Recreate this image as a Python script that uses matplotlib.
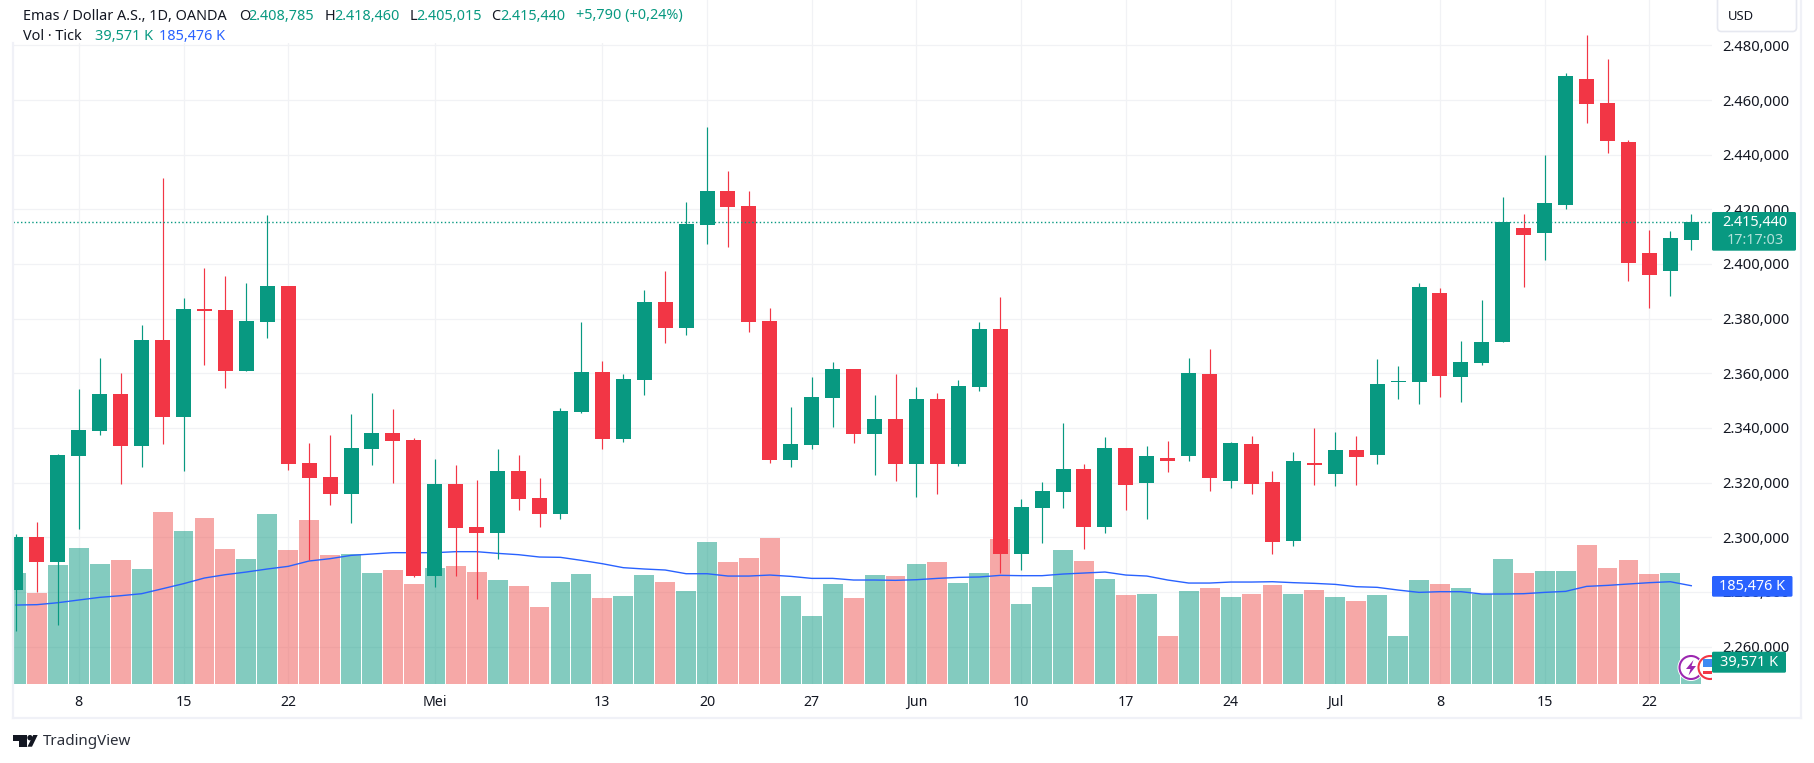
import numpy as np
import matplotlib
matplotlib.use("Agg")
import matplotlib.pyplot as plt
from matplotlib.patches import Rectangle, FancyBboxPatch, Circle, Polygon

# bars run from 3 Apr to 24 Jul 2024, weekdays only
opens = [2280.7, 2300.1, 2291.0, 2329.8, 2338.9, 2352.4, 2333.4, 2372.2, 2344.0, 2383.5, 2383.2, 2360.9, 2378.8, 2392.0, 2327.2, 2322.1, 2315.9, 2332.3, 2338.2, 2335.6, 2285.9, 2319.5, 2303.8, 2301.6, 2324.3,
         2314.4, 2308.5, 2345.9, 2360.5, 2336.0, 2357.6, 2386.1, 2376.6, 2414.3, 2426.7, 2421.2, 2379.1, 2328.3, 2333.8, 2351.0, 2361.6, 2337.8, 2343.3, 2326.8, 2350.6, 2326.8, 2355.0, 2376.2, 2293.9,
         2310.7, 2316.6, 2325.0, 2303.8, 2332.7, 2319.9, 2329.0, 2329.8, 2359.8, 2320.6, 2334.1, 2320.2, 2298.7, 2327.2, 2323.2, 2332.0, 2330.1, 2356.8, 2356.8, 2389.4, 2358.7, 2363.8, 2371.6, 2413.3, 2411.5, 2421.7, 2467.8, 2459.0, 2444.8, 2404.1, 2397.6, 2408.785]
highs = [2301.2, 2305.6, 2330.5, 2354.3, 2365.6, 2360.1, 2377.7, 2431.5, 2387.6, 2398.5, 2395.6, 2393.0, 2417.9, 2392.0, 2334.5, 2337.4, 2345.1, 2352.8, 2347.0, 2336.3, 2328.7, 2326.5, 2321.0, 2332.3, 2330.1,
         2321.7, 2347.3, 2378.8, 2364.5, 2359.8, 2390.5, 2397.4, 2422.7, 2450.1, 2434.0, 2426.7, 2383.9, 2347.7, 2358.7, 2364.1, 2361.6, 2352.1, 2359.8, 2355.0, 2352.8, 2357.6, 2378.8, 2387.9, 2314.0,
         2320.2, 2341.8, 2326.8, 2336.7, 2332.7, 2333.4, 2335.2, 2365.6, 2368.9, 2334.9, 2337.1, 2324.3, 2331.2, 2340.0, 2338.5, 2337.1, 2365.2, 2362.7, 2393.0, 2391.2, 2371.8, 2386.8, 2424.6, 2418.4, 2440.0, 2470.0, 2483.9, 2475.1, 2445.5, 2412.6, 2412.2, 2418.46]
lows = [2265.8, 2280.0, 2267.9, 2303.2, 2337.4, 2319.5, 2325.7, 2334.1, 2324.3, 2363.0, 2354.6, 2360.9, 2372.9, 2324.6, 2291.7, 2311.8, 2305.2, 2326.5, 2319.9, 2285.5, 2281.8, 2285.9, 2277.4, 2292.1, 2310.0,
        2303.8, 2306.7, 2345.5, 2332.3, 2334.9, 2352.1, 2371.1, 2374.0, 2407.3, 2406.2, 2375.1, 2327.2, 2325.7, 2332.3, 2340.4, 2334.5, 2322.8, 2320.6, 2314.8, 2315.9, 2326.1, 2353.5, 2287.0, 2288.0,
        2297.9, 2310.7, 2295.7, 2301.6, 2310.0, 2306.7, 2323.9, 2327.9, 2317.0, 2318.0, 2315.9, 2293.9, 2296.8, 2319.1, 2318.8, 2319.1, 2326.8, 2350.6, 2348.8, 2351.3, 2349.5, 2363.0, 2371.6, 2391.7, 2401.6, 2420.2, 2451.7, 2440.7, 2393.9, 2384.0, 2388.4, 2405.015]
closes = [2300.1, 2291.0, 2330.1, 2339.3, 2352.4, 2333.4, 2372.2, 2344.0, 2383.5, 2382.8, 2360.9, 2379.1, 2392.0, 2326.8, 2321.7, 2315.9, 2332.7, 2338.2, 2335.2, 2285.9, 2319.5, 2303.4, 2301.6, 2324.3, 2314.0,
          2308.5, 2346.2, 2360.5, 2336.0, 2357.9, 2386.1, 2376.6, 2414.6, 2426.7, 2420.9, 2378.8, 2328.3, 2334.1, 2351.3, 2361.6, 2337.8, 2343.3, 2326.8, 2350.6, 2326.8, 2355.4, 2376.2, 2293.9, 2311.1,
          2317.0, 2325.0, 2303.8, 2332.7, 2319.1, 2329.8, 2327.9, 2360.1, 2321.7, 2334.5, 2319.5, 2298.3, 2327.9, 2326.5, 2332.0, 2329.4, 2356.1, 2357.1, 2391.6, 2359.0, 2364.1, 2371.5, 2415.5, 2410.7, 2422.4, 2468.9, 2458.7, 2445.1, 2400.5, 2396.1, 2409.6, 2415.44]
# tick volume, in thousands
volumes = [209.5, 171.7, 224.6, 256.6, 226.4, 234.0, 217.0, 324.6, 288.7, 313.2, 254.7, 235.9, 320.8, 252.9, 309.5, 243.4, 245.3, 209.5, 215.1, 188.7, 218.9, 222.7, 211.3, 196.2, 184.9,
           145.3, 192.5, 207.6, 162.3, 166.1, 205.7, 192.5, 175.5, 268.0, 230.2, 237.8, 275.5, 166.1, 128.3, 188.7, 162.3, 205.7, 203.8, 226.4, 230.2, 190.6, 209.5, 273.6, 151.0,
           183.0, 252.9, 232.1, 198.1, 167.9, 169.8, 90.6, 175.5, 181.2, 164.2, 169.8, 186.8, 169.8, 177.4, 164.2, 156.6, 167.9, 90.6, 196.2, 188.7, 181.2, 169.8, 235.9, 209.5, 213.2, 213.2, 262.3, 218.9, 234.0, 207.6, 209.5, 39.571]
vol_ma = [149.0, 149.7, 153.4, 158.5, 163.5, 166.6, 170.4, 179.8, 189.3, 200.0, 206.3, 211.3, 217.0, 222.0, 232.1, 236.5, 242.7, 245.3, 247.8, 247.8, 247.8, 249.7, 249.7, 246.5, 244.0, 239.6, 239.0, 233.3, 227.0, 219.5, 217.0,
          215.1, 208.1, 208.1, 203.7, 203.7, 205.6, 203.1, 199.3, 199.3, 196.2, 196.2, 195.6, 196.8, 199.3, 201.2, 201.9, 205.0, 204.4, 204.4, 207.5, 209.4, 211.3, 205.6, 203.7, 196.2, 190.5, 190.5, 192.4,
          192.4, 193.0, 191.2, 189.9, 188.0, 183.6, 182.4, 177.3, 172.9, 174.2, 174.2, 169.8, 169.8, 170.4, 172.9, 174.8, 184.2, 186.1, 188.7, 191.2, 193.0, 185.476]
time_ticks = [3, 8, 13, 20, 28, 33, 38, 43, 48, 53, 58, 63, 68, 73, 78]
time_labels = ["8", "15", "22", "Mei", "13", "20", "27", "Jun", "10", "17", "24", "Jul", "8", "15", "22"]
price_ticks = [2260, 2280, 2300, 2320, 2340, 2360, 2380, 2400, 2420, 2440, 2460, 2480]
last_price = 2415.44

GREEN = "#089981"
RED = "#F23645"
VOL_RED = "#EF5350"
BLUE = "#2962FF"
TEXT = "#131722"
GRID = "#F1F2F5"
BORDER = "#F0F1F7"

W, H = 1815, 763
plt.rcParams["font.family"] = ["Noto Sans", "DejaVu Sans"]

fig = plt.figure(figsize=(W / 100, H / 100), dpi=100, facecolor="white")
left, right, bottom = 13.4, 1711.8, 684.0
rect = [left / W, (H - bottom) / H, (right - left) / W, bottom / H]

# stacked panes: grid at the back, then volume, then candles
ax = fig.add_axes(rect)
ax_vol = ax.twinx()
ax_price = ax.twinx()
ax.set_zorder(1)
ax_vol.set_zorder(2)
ax_price.set_zorder(3)
ax_vol.patch.set_visible(False)
ax_price.patch.set_visible(False)

x = np.arange(len(closes))
o, h, l, c = map(np.array, (opens, highs, lows, closes))
up = c >= o

ax.set_xlim(-0.123, 80.98)
price_lim = (2246.3, 2496.6)
ax.set_ylim(*price_lim)
ax_price.set_ylim(*price_lim)
ax_vol.set_ylim(0, 684 * 1.887)
for a in (ax, ax_vol, ax_price):
    for s in a.spines.values():
        s.set_visible(False)
ax_vol.set_yticks([])
ax_price.set_yticks([])

ax.grid(True, color=GRID, linewidth=0.9)
ax.set_axisbelow(True)
ax.set_xticks(time_ticks)
ax.set_xticklabels(time_labels, fontsize=10.2, color=TEXT)
ax.tick_params(axis="x", length=0, pad=8)
for lab in ax.get_xticklabels():
    if lab.get_text() in ("Mei", "Jun", "Jul"):
        lab.set_fontweight("bold")
ax.yaxis.tick_right()
ax.set_yticks(price_ticks)
ax.set_yticklabels([f"{p // 1000}.{p % 1000:03d},000" for p in price_ticks], fontsize=10.6, color=TEXT)
ax.tick_params(axis="y", length=0, pad=7.5)

vol_colors = [GREEN if u else VOL_RED for u in up]
ax_vol.bar(x, volumes, width=0.95, color=vol_colors, alpha=0.5, linewidth=0)
ax_vol.plot(x, vol_ma, color=BLUE, linewidth=1.0)

colors = [GREEN if u else RED for u in up]
ax_price.vlines(x, l, h, colors=colors, linewidth=0.85)
ax_price.bar(x, np.abs(c - o), bottom=np.minimum(o, c), width=0.716, color=colors, linewidth=0)
ax_price.axhline(last_price, color=GREEN, linewidth=1.0, linestyle=(0, (1, 1.7)))

# overlay in pixel coordinates for the chart chrome
ov = fig.add_axes([0, 0, 1, 1], zorder=5)
ov.set_xlim(0, W)
ov.set_ylim(H, 0)
ov.axis("off")

# legend sits on a white strip that hides the grid
ov.add_patch(Rectangle((0, 0), 690, 43, color="white", linewidth=0))
ov.plot([13, 13], [43, 718], color=BORDER, linewidth=1.6)
ov.plot([13, 1801], [718, 718], color=BORDER, linewidth=1.6)
ov.plot([1801, 1801], [0, 718], color=BORDER, linewidth=1.6)


def legend_text(px, py, s, color=TEXT):
    ov.text(px, py, s, color=color, fontsize=10.4, va="center", ha="left")


legend_text(23, 16, "Emas / Dollar A.S., 1D, OANDA")
for px, s, col in [(238.8, "O", TEXT), (248.7, "2.408,785", GREEN), (324.6, "H", TEXT), (334, "2.418,460", GREEN),
                   (409.4, "L", TEXT), (416.5, "2.405,015", GREEN), (491.5, "C", TEXT), (500.4, "2.415,440", GREEN),
                   (576, "+5,790 (+0,24%)", GREEN)]:
    legend_text(px, 16, s, col)
legend_text(23, 37, "Vol · Tick")
legend_text(94.6, 37, "39,571 K", GREEN)
legend_text(159.4, 37, "185,476 K", BLUE)


def tag(x0, y0, x1, y1, color):
    ov.add_patch(FancyBboxPatch((x0, y0), x1 - x0, y1 - y0, boxstyle="round,pad=0,rounding_size=1.5",
                                facecolor=color, edgecolor="none"))


# price and volume tags on the right scale
tag(1712, 212, 1796, 250.7, GREEN)
ov.text(1755, 222, "2.415,440", color="white", fontsize=10.4, fontweight="bold", ha="center", va="center")
ov.text(1755, 241, "17:17:03", color="#B5E1DA", fontsize=10.4, ha="center", va="center")
tag(1712, 576, 1792.5, 596.7, BLUE)
ov.text(1752, 587, "185,476 K", color="white", fontsize=10.4, ha="center", va="center")
tag(1712, 651.7, 1786, 672.7, GREEN)
ov.text(1749, 663, "39,571 K", color="white", fontsize=10.4, ha="center", va="center")

ov.add_patch(FancyBboxPatch((1717.5, -4), 79, 35.5, boxstyle="round,pad=0,rounding_size=4",
                            facecolor="white", edgecolor="#E6E8F0", linewidth=1.2))
ov.text(1728, 16, "USD", color=TEXT, fontsize=9.4, va="center", ha="left")

# event badges at the bottom right of the pane
ov.add_patch(Circle((1691, 667.5), 13.5, facecolor="white", edgecolor="none"))
ov.add_patch(Circle((1691, 667.5), 11.5, facecolor="white", edgecolor="#9C27B0", linewidth=1.5))
ov.add_patch(Polygon([(1693.5, 660), (1686, 669), (1690.5, 669), (1688.5, 675.5), (1696, 666), (1691.5, 666)],
                     facecolor="#9C27B0", edgecolor="none"))
clip = Rectangle((0, 0), 1712, H, transform=ov.transData)
outer = Circle((1710, 667.5), 13.5, facecolor="white", edgecolor="none")
ring = Circle((1710, 667.5), 11.5, facecolor="white", edgecolor=RED, linewidth=1.5)
flag = Rectangle((1703, 659), 9, 8, facecolor="#3D8BF2", edgecolor="none")
stripe = Rectangle((1703, 671), 9, 3, facecolor=RED, edgecolor="none")
for p in (outer, ring, flag, stripe):
    ov.add_patch(p)
    p.set_clip_path(clip)

# wordmark
ov.add_patch(Polygon([(12.7, 735), (26.7, 735), (26.7, 746.7), (19.5, 746.7), (19.5, 741), (12.7, 741)],
                     facecolor="#131722", edgecolor="none"))
ov.add_patch(Circle((30, 737.7), 2.7, facecolor="#131722", edgecolor="none"))
ov.add_patch(Polygon([(37.7, 735), (32, 746.7), (27.5, 746.7), (33.2, 735)], facecolor="#131722", edgecolor="none"))
ov.text(43, 741.5, "TradingView", color="#2A2E39", fontsize=10.9, va="center", ha="left")

fig.savefig("out.png", dpi=100)
